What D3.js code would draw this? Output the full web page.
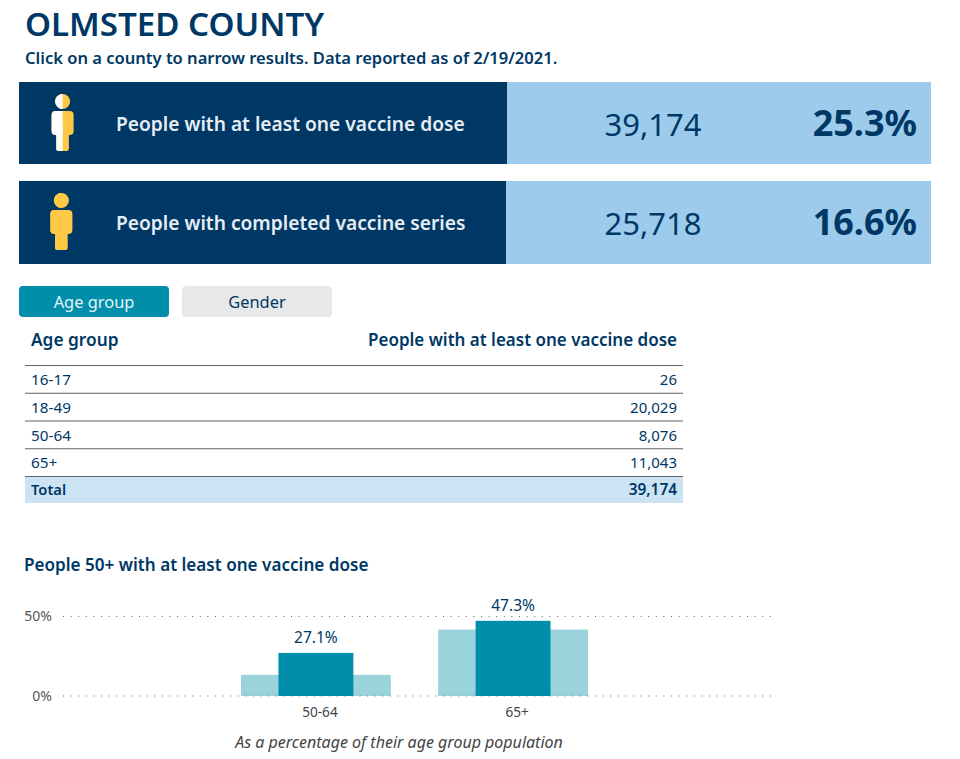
<!DOCTYPE html>
<html><head><meta charset="utf-8">
<script src="https://cdn.jsdelivr.net/npm/d3@7"></script>
<style>html,body{margin:0;padding:0;background:#fff}svg{display:block}text{font-family:"Noto Sans","Open Sans",sans-serif}</style>
</head><body><svg id="c" width="960" height="759"></svg>
<script>
const title = "OLMSTED COUNTY";
const subtitle = "Click on a county to narrow results. Data reported as of 2/19/2021.";
const bannerLabels = ["People with at least one vaccine dose", "People with completed vaccine series"];
const bannerCounts = ["39,174", "25,718"];
const bannerPercents = ["25.3%", "16.6%"];
const tabs = ["Age group", "Gender"];
const tableHeaders = ["Age group", "People with at least one vaccine dose"];
const tableGroups = ["16-17", "18-49", "50-64", "65+"];
const tableValues = [26, 20029, 8076, 11043];
const tableTotal = 39174;
const chartTitle = "People 50+ with at least one vaccine dose";
const chartNote = "As a percentage of their age group population";
const chartGroups = ["50-64", "65+"];
const vaccinated = [27.1, 47.3];
const comparison = [13.3, 41.8];
const yTicks = [0, 50];

const navy = "#003865", sky = "#9DCBEC", teal = "#008EAA", paleTeal = "#9BD3DD", gold = "#FFC845";
const svg = d3.select("#c");
const fmt = d3.format(",");
function txt(x, y, s, size, o = {}) {
  return svg.append("text").attr("x", x).attr("y", y).text(s)
    .attr("font-size", size).attr("fill", o.fill || navy)
    .attr("font-weight", o.weight || 400).attr("font-style", o.style || "normal")
    .attr("text-anchor", o.anchor || "start");
}

txt(25, 36, title, 33.1, {weight: 600});
txt(25, 64, subtitle, 16.55, {weight: 600});

// banners
const bannerDark = [[19, 82, 488, 82], [19, 181, 487, 83]];
bannerDark.forEach((b, i) => {
  svg.append("rect").attr("x", b[0]).attr("y", b[1]).attr("width", 912).attr("height", b[3]).attr("fill", sky);
  svg.append("rect").attr("x", b[0]).attr("y", b[1]).attr("width", b[2]).attr("height", b[3]).attr("fill", navy);
  txt(116, b[1] + 49, bannerLabels[i], 19.2, {fill: "#E6EDF3", weight: 600});
  txt(653, b[1] + 54, bannerCounts[i], 31, {anchor: "middle"});
  txt(917, b[1] + 54, bannerPercents[i], 36, {anchor: "end", weight: 700});
});

// person icons
const defs = svg.append("defs");
function person(id, cx, top, left, right) {
  defs.append("clipPath").attr("id", id + "L").append("rect")
    .attr("x", cx - 20).attr("y", top - 10).attr("width", 20).attr("height", 80);
  const draw = g => {
    g.append("circle").attr("cx", cx).attr("cy", top + 7.5).attr("r", 7.5);
    g.append("rect").attr("x", cx - 11).attr("y", top + 17).attr("width", 22).attr("height", 24).attr("rx", 4);
    g.append("rect").attr("x", cx - 6.3).attr("y", top + 30).attr("width", 12.6).attr("height", 27).attr("rx", 2.5);
  };
  draw(svg.append("g").attr("fill", right));
  draw(svg.append("g").attr("fill", left).attr("clip-path", `url(#${id}L)`));
}
person("p1", 62.6, 94, "#fff", gold);
person("p2", 61.4, 193, gold, gold);

// tabs
[[19, teal, "#E3F4F7"], [182, "#E8E8E8", navy]].forEach((t, i) => {
  svg.append("rect").attr("x", t[0]).attr("y", 286).attr("width", 150).attr("height", 31).attr("rx", 4).attr("fill", t[1]);
  txt(t[0] + 75, 308, tabs[i], 16.4, {fill: t[2], anchor: "middle"});
});

// table
const rowY = d3.scaleBand().domain(tableGroups).range([365.5, 476.5]);
txt(31, 346, tableHeaders[0], 17.3, {weight: 600});
txt(677, 346, tableHeaders[1], 17, {weight: 600, anchor: "end"});
svg.append("rect").attr("x", 25).attr("y", 477).attr("width", 658).attr("height", 26).attr("fill", "#CCE3F4");
svg.append("g").selectAll("line").data([365.5, ...tableGroups.map(g => rowY(g) + rowY.bandwidth())]).join("line")
  .attr("x1", 25).attr("x2", 683).attr("y1", d => d).attr("y2", d => d).attr("stroke", "#5f6468").attr("stroke-width", 1);
tableGroups.forEach((g, i) => {
  const y = rowY(g) + 19.5;
  txt(31, y, g, 15.3);
  txt(677, y, fmt(tableValues[i]), 15, {anchor: "end"});
});
txt(31, 495, "Total", 14.7, {weight: 600});
txt(677, 495, fmt(tableTotal), 15.4, {weight: 600, anchor: "end"});

// chart
txt(24, 571, chartTitle, 17.1, {weight: 600});
const x = d3.scaleBand().domain(chartGroups).range([241, 588]).paddingInner(0.24);
const y = d3.scaleLinear().domain([0, 50]).range([696, 616.5]);
const w = x.bandwidth();

svg.append("g").selectAll("rect").data(chartGroups).join("rect")
  .attr("x", d => x(d)).attr("width", w)
  .attr("y", (d, i) => y(comparison[i])).attr("height", (d, i) => y(0) - y(comparison[i])).attr("fill", paleTeal);
svg.append("g").selectAll("rect").data(chartGroups).join("rect")
  .attr("x", d => x(d) + w / 4).attr("width", w / 2)
  .attr("y", (d, i) => y(vaccinated[i])).attr("height", (d, i) => y(0) - y(vaccinated[i])).attr("fill", teal);

const yAxis = d3.axisLeft(y).tickValues(yTicks).tickSize(0).tickFormat(d => d + "%");
const yg = svg.append("g").attr("transform", "translate(52,0)").call(yAxis);
yg.select(".domain").remove();
yg.selectAll("text").attr("font-size", 14).attr("fill", "#555").attr("dy", "0.32em").attr("x", 0)
  .style("font-family", '"Noto Sans"');
svg.append("g").selectAll("line").data(yTicks).join("line")
  .attr("x1", 63).attr("x2", 776).attr("y1", d => y(d)).attr("y2", d => y(d))
  .attr("stroke", "#666").attr("stroke-width", 1.1).attr("stroke-dasharray", "1 6.6");

const xAxis = d3.axisBottom(x).tickSize(0).tickPadding(0);
const xg = svg.append("g").attr("transform", "translate(4,696)").call(xAxis);
xg.select(".domain").remove();
xg.selectAll("text").attr("font-size", 13.6).attr("fill", "#444").attr("y", 21).attr("dy", 0)
  .style("font-family", '"Noto Sans"');

chartGroups.forEach((g, i) => {
  txt(x(g) + w / 2, y(vaccinated[i]) - 9.5, vaccinated[i].toFixed(1) + "%", 15.5, {anchor: "middle"});
});
txt(399, 748, chartNote, 16, {fill: "#444", style: "italic", anchor: "middle"});
</script></body></html>
